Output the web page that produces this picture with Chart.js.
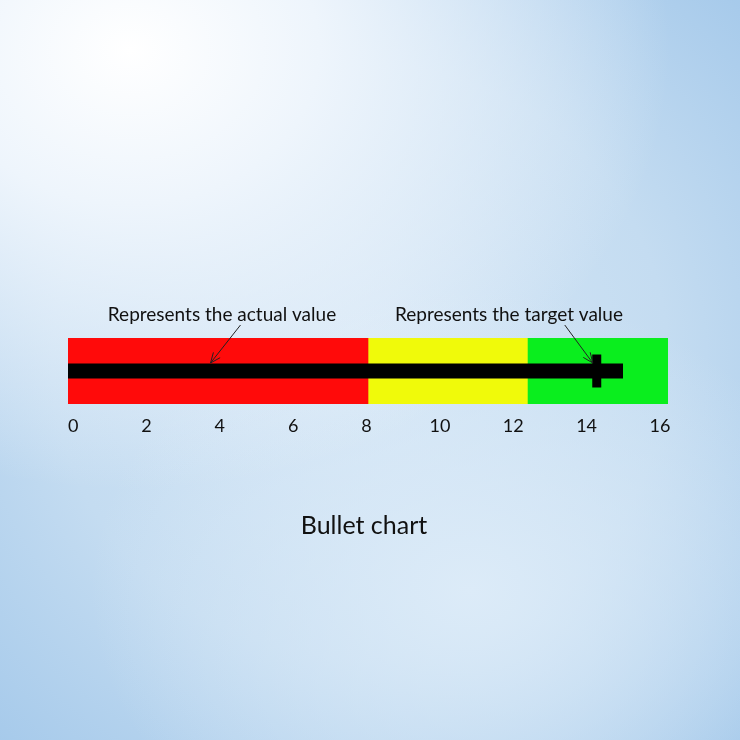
<!DOCTYPE html>
<html>
<head>
<meta charset="utf-8">
<script src="https://cdn.jsdelivr.net/npm/chart.js@4"></script>
<style>
  html, body { margin: 0; padding: 0; }
  body {
    width: 740px;
    height: 740px;
    overflow: hidden;
    background:
      radial-gradient(ellipse 540px 440px at 130px 50px, #ffffff 0%, #eef5fc 35%, rgba(225,238,249,0) 100%),
      radial-gradient(ellipse 380px 300px at 470px 590px, #dcebf8 0%, rgba(220,235,248,0) 100%),
      radial-gradient(ellipse 560px 540px at 360px 360px, #d6e7f6 0%, #c4dcf1 55%, #a3c8ea 100%);
  }
  #wrap { position: absolute; left: 0; top: 0; width: 740px; height: 740px; }
</style>
</head>
<body>
<div id="wrap"><canvas id="chart"></canvas></div>
<script>
// Bullet chart data
const category = ["Score"];
const rangeBounds = [0, 8, 12.25, 16];
const rangeColors = ["#ff0a0a", "#f0fa0a", "#0aee1e"];
const actualValue = [14.8];
const targetValue = [14.1];
const xTicks = [0, 2, 4, 6, 8, 10, 12, 14, 16];

const annotationTexts = ["Represents the actual value", "Represents the target value"];
const annotationAnchors = [3.8, targetValue[0]];
const chartTitle = "Bullet chart";

const rangeDatasets = rangeColors.map((color, i) => ({
  label: "range " + (i + 1),
  data: [[rangeBounds[i], rangeBounds[i + 1]]],
  backgroundColor: color,
  borderWidth: 0,
  barPercentage: 1,
  categoryPercentage: 1,
  grouped: false,
  order: 3,
}));

// arrows, annotation texts and the title below the chart
const annotations = {
  id: "annotations",
  afterDraw(chart) {
    const ctx = chart.ctx;
    const x = chart.scales.x;
    const area = chart.chartArea;
    const midY = (area.top + area.bottom) / 2;
    const tipY = midY - 8;

    ctx.save();
    ctx.fillStyle = "#111";
    ctx.strokeStyle = "#222";
    ctx.lineWidth = 1;
    ctx.font = "19px Lato";
    ctx.textAlign = "center";
    ctx.textBaseline = "alphabetic";

    const setups = [
      { textX: 222, dx: 30 },
      { textX: 509, dx: -28 },
    ];
    annotationTexts.forEach((text, i) => {
      ctx.fillText(text, setups[i].textX, area.top - 17);
      const tx = x.getPixelForValue(annotationAnchors[i]) - (i === 1 ? 4 : 0);
      const sx = tx + setups[i].dx;
      const sy = area.top - 13;
      ctx.beginPath();
      ctx.moveTo(sx, sy);
      ctx.lineTo(tx, tipY);
      ctx.stroke();
      const ang = Math.atan2(tipY - sy, tx - sx);
      const len = 11;
      ctx.beginPath();
      ctx.moveTo(tx - len * Math.cos(ang - 0.4), tipY - len * Math.sin(ang - 0.4));
      ctx.lineTo(tx, tipY);
      ctx.lineTo(tx - len * Math.cos(ang + 0.4), tipY - len * Math.sin(ang + 0.4));
      ctx.stroke();
    });

    ctx.font = "25px Lato";
    ctx.fillText(chartTitle, 364, 534);
    ctx.restore();
  },
};

new Chart(document.getElementById("chart"), {
  type: "bar",
  data: {
    labels: category,
    datasets: [
      {
        type: "line",
        label: "target",
        data: targetValue.map((v) => ({ x: v, y: category[0] })),
        showLine: false,
        pointStyle: "line",
        rotation: 90,
        pointRadius: 16.5,
        pointHoverRadius: 16.5,
        borderColor: "#000",
        backgroundColor: "#000",
        borderWidth: 9,
        pointBorderWidth: 9,
        order: 1,
      },
      {
        label: "actual",
        data: actualValue,
        backgroundColor: "#000",
        borderWidth: 0,
        barPercentage: 15 / 66,
        categoryPercentage: 1,
        grouped: false,
        order: 2,
      },
      ...rangeDatasets,
    ],
  },
  options: {
    indexAxis: "y",
    responsive: true,
    maintainAspectRatio: false,
    animation: false,
    layout: { padding: { left: 68, right: 72, top: 338, bottom: 0 } },
    plugins: {
      legend: { display: false },
      tooltip: { enabled: false },
    },
    scales: {
      x: {
        type: "linear",
        display: false,
        min: rangeBounds[0],
        max: rangeBounds[rangeBounds.length - 1],
      },
      // tick labels sit slightly inside the bar ends in the reference
      xLabels: {
        type: "linear",
        axis: "x",
        position: "bottom",
        min: -0.14,
        max: 16.22,
        afterBuildTicks: (scale) => {
          scale.ticks = xTicks.map((v) => ({ value: v }));
        },
        afterFit: (scale) => {
          scale.height = 740 - 404;
        },
        grid: { display: false, drawTicks: false },
        border: { display: false },
        ticks: {
          padding: 11,
          color: "#111",
          font: { family: "Lato", size: 18 },
        },
      },
      y: {
        display: false,
      },
    },
  },
  plugins: [annotations],
});
</script>
</body>
</html>
